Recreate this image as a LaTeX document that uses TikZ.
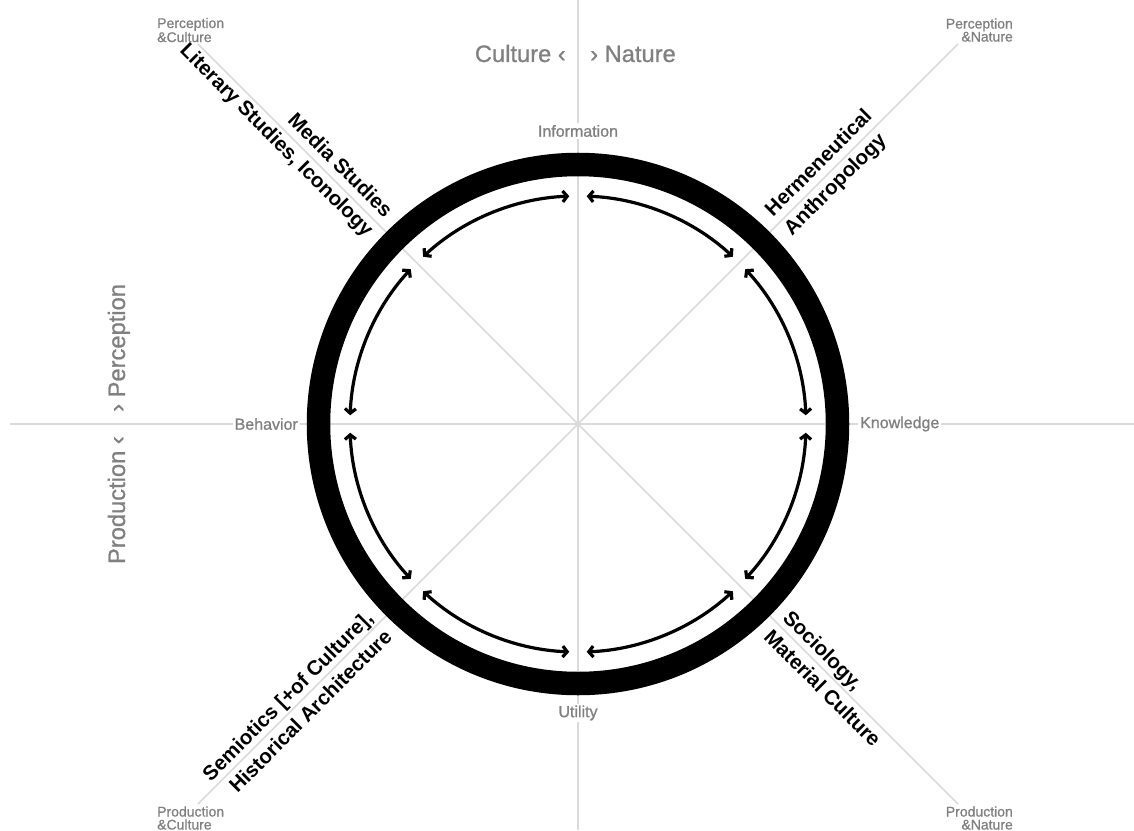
\documentclass[tikz,border=0pt]{standalone}
\usepackage{fontspec}
\setmainfont{Liberation Sans}
\newfontfamily\greysans[FakeBold=0.9]{Liberation Sans}
\usetikzlibrary{arrows.meta, positioning}
\definecolor{axisgray}{RGB}{218,218,218}
\definecolor{labelgray}{RGB}{128,128,128}

\begin{document}
\begin{tikzpicture}[
    x=1pt, y=1pt,
    axisline/.style={draw=axisgray, line width=1.6pt},
    ringline/.style={draw=black, line width=23.5pt},
    cyclearrow/.style={{Straight Barb[length=4.5pt,width=11pt]}-{Straight Barb[length=4.5pt,width=11pt]}, line width=3.2pt},
    poletext/.style={text=labelgray, font=\greysans\fontsize{23.7}{28}\selectfont, inner sep=0pt},
    axislabel/.style={text=labelgray, font=\greysans\fontsize{16}{19}\selectfont, fill=white, inner sep=2pt},
    cornerlabel/.style={text=labelgray, font=\greysans\fontsize{14}{13}\selectfont, inner sep=0pt},
    fieldlabel/.style={font=\bfseries\fontsize{20.5}{27}\selectfont, inner sep=0pt}
]
\useasboundingbox (-578,-406) rectangle (556,424);

% axes
\coordinate (o) at (0,0);
\coordinate (n) at (0,424);
\coordinate (s) at (0,-406);
\coordinate (w) at (-568,0);
\coordinate (e) at (556,0);
\coordinate (ul) at (-380,380);
\coordinate (ur) at (380,380);
\coordinate (ll) at (-380,-380);
\coordinate (lr) at (380,-380);

\draw[axisline] (n) -- (s);
\draw[axisline] (w) -- (e);
\draw[axisline] (ul) -- (lr);
\draw[axisline] (ur) -- (ll);

% corner poles
\node[cornerlabel, align=left, anchor=west] (perccult) at (-421,394) {Perception\\\&Culture};
\node[cornerlabel, align=right, anchor=east] (percnat) at (435,394) {Perception\\\&Nature};
\node[cornerlabel, align=left, anchor=west] (prodcult) at (-421,-394) {Production\\\&Culture};
\node[cornerlabel, align=right, anchor=east] (prodnat) at (435,-394) {Production\\\&Nature};

% axis poles
\node[poletext, anchor=base east] (culture) at (-12,362) {Culture ‹};
\node[poletext, anchor=base west] (nature) at (12,362) {› Nature};
\node[poletext, rotate=90, anchor=base west] (perception) at (-453,12) {› Perception};
\node[poletext, rotate=90, anchor=base east] (production) at (-453,-12) {Production ‹};

% ring
\draw[ringline] (o) circle[radius=259.5];

% cycle
\draw[cyclearrow] (2.2:228) arc[start angle=2.2, end angle=42.8, radius=228];
\draw[cyclearrow] (47.2:228) arc[start angle=47.2, end angle=87.8, radius=228];
\draw[cyclearrow] (92.2:228) arc[start angle=92.2, end angle=132.8, radius=228];
\draw[cyclearrow] (137.2:228) arc[start angle=137.2, end angle=177.8, radius=228];
\draw[cyclearrow] (182.2:228) arc[start angle=182.2, end angle=222.8, radius=228];
\draw[cyclearrow] (227.2:228) arc[start angle=227.2, end angle=267.8, radius=228];
\draw[cyclearrow] (272.2:228) arc[start angle=272.2, end angle=312.8, radius=228];
\draw[cyclearrow] (317.2:228) arc[start angle=317.2, end angle=357.8, radius=228];

% ring labels
\node[axislabel] (information) at (0,293) {Information};
\node[axislabel] (utility) at (0,-289) {Utility};
\node[axislabel, anchor=west] (knowledge) at (280,0) {Knowledge};
\node[axislabel, anchor=east] (behavior) at (-278,0) {Behavior};

% fields
\node[fieldlabel, rotate=-45, anchor=east, align=right] (media) at (135:282) {Media Studies\\Literary Studies, Iconology};
\node[fieldlabel, rotate=45, anchor=west, align=left] (herm) at (45:284) {Hermeneutical\\Anthropology};
\node[fieldlabel, rotate=45, anchor=east, align=right] (semio) at (225:282) {Semiotics [+of Culture],\\Historical Architecture};
\node[fieldlabel, rotate=-45, anchor=west, align=left] (socio) at (315:282) {Sociology,\\Material Culture};

\end{tikzpicture}
\end{document}
